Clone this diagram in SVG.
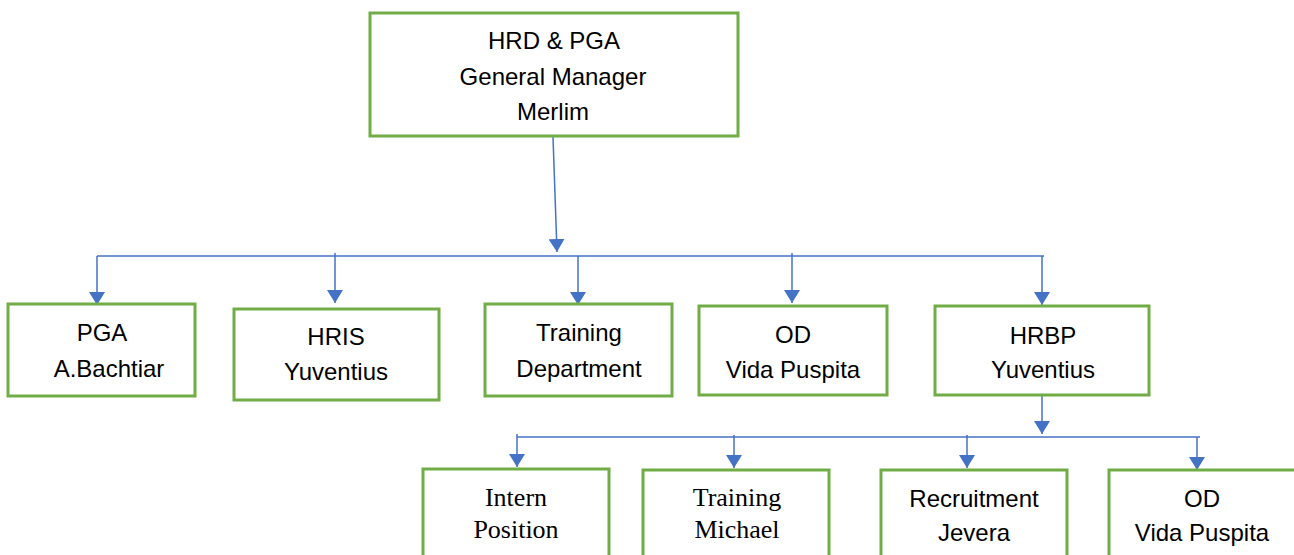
<svg xmlns="http://www.w3.org/2000/svg" width="1294" height="555" viewBox="0 0 1294 555">
  <style>
    .box { fill: #ffffff; stroke: #70ad47; stroke-width: 3; }
    .wire { fill: none; stroke: #4472c4; stroke-width: 1.5; }
    .sans { font-family: "Liberation Sans", Arial, sans-serif; font-size: 24px; fill: #000; text-anchor: middle; }
    .serif { font-family: "Liberation Serif", "Times New Roman", serif; font-size: 26px; fill: #000; text-anchor: middle; }
  </style>
  <defs>
    <!-- filled triangular arrowhead, 13 long x 16 wide -->
    <marker id="arrow" markerUnits="userSpaceOnUse" markerWidth="13" markerHeight="16" refX="13" refY="8" orient="auto" viewBox="0 0 13 16">
      <path d="M0,0 L13,8 L0,16 Z" fill="#4472c4"/>
    </marker>
  </defs>

  <rect width="1294" height="555" fill="#ffffff"/>

  <!-- connectors -->
  <g id="connectors">
    <path class="wire" d="M553,137 L557,252" marker-end="url(#arrow)"/>
    <path class="wire" d="M97,256 L1044,256"/>
    <path class="wire" d="M97,256 L97,305" marker-end="url(#arrow)"/>
    <path class="wire" d="M335,253 L335,303" marker-end="url(#arrow)"/>
    <path class="wire" d="M578,256 L578,305" marker-end="url(#arrow)"/>
    <path class="wire" d="M792,253 L792,303" marker-end="url(#arrow)"/>
    <path class="wire" d="M1042,256 L1042,305" marker-end="url(#arrow)"/>
    <path class="wire" d="M1042,395 L1042,434" marker-end="url(#arrow)"/>
    <path class="wire" d="M517,437 L1200,437"/>
    <path class="wire" d="M517,434 L517,467" marker-end="url(#arrow)"/>
    <path class="wire" d="M734,435 L734,468" marker-end="url(#arrow)"/>
    <path class="wire" d="M967,435 L967,468" marker-end="url(#arrow)"/>
    <path class="wire" d="M1197,437 L1197,470" marker-end="url(#arrow)"/>
  </g>

  <!-- top level -->
  <g id="gm">
    <rect class="box" x="370" y="13" width="368" height="123"/>
    <text class="sans" x="554" y="49">HRD &amp; PGA</text>
    <text class="sans" x="553" y="85">General Manager</text>
    <text class="sans" x="553" y="120">Merlim</text>
  </g>

  <!-- second level -->
  <g id="pga">
    <rect class="box" x="8" y="304" width="187" height="92"/>
    <text class="sans" x="102" y="341">PGA</text>
    <text class="sans" x="109" y="377">A.Bachtiar</text>
  </g>
  <g id="hris">
    <rect class="box" x="234" y="309" width="205" height="91"/>
    <text class="sans" x="336" y="345">HRIS</text>
    <text class="sans" x="336" y="380">Yuventius</text>
  </g>
  <g id="training-dept">
    <rect class="box" x="485" y="304" width="187" height="92"/>
    <text class="sans" x="579" y="341">Training</text>
    <text class="sans" x="579" y="377">Department</text>
  </g>
  <g id="od">
    <rect class="box" x="699" y="306" width="188" height="89"/>
    <text class="sans" x="793" y="343">OD</text>
    <text class="sans" x="793" y="378">Vida Puspita</text>
  </g>
  <g id="hrbp">
    <rect class="box" x="935" y="306" width="214" height="89"/>
    <text class="sans" x="1043" y="344">HRBP</text>
    <text class="sans" x="1043" y="378">Yuventius</text>
  </g>

  <!-- third level -->
  <g id="intern">
    <rect class="box" x="423" y="469" width="186" height="100"/>
    <text class="serif" x="516" y="506">Intern</text>
    <text class="serif" x="516" y="538">Position</text>
  </g>
  <g id="training-michael">
    <rect class="box" x="643" y="470" width="186" height="100"/>
    <text class="serif" x="737" y="506">Training</text>
    <text class="serif" x="737" y="538">Michael</text>
  </g>
  <g id="recruitment">
    <rect class="box" x="881" y="470" width="186" height="100"/>
    <text class="sans" x="974" y="507">Recruitment</text>
    <text class="sans" x="974" y="541">Jevera</text>
  </g>
  <g id="od-hrbp">
    <rect class="box" x="1109" y="470" width="200" height="100"/>
    <text class="sans" x="1202" y="507">OD</text>
    <text class="sans" x="1202" y="541">Vida Puspita</text>
  </g>
</svg>
